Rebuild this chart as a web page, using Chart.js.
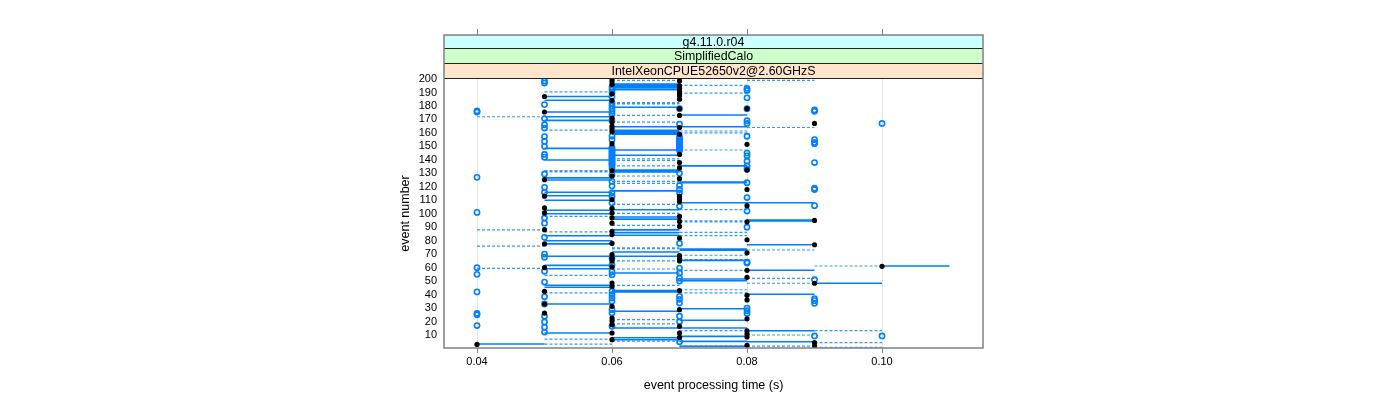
<!DOCTYPE html>
<html>
<head>
<meta charset="utf-8">
<title>event processing time</title>
<script src="https://cdn.jsdelivr.net/npm/chart.js@4"></script>
<style>
    html, body { margin: 0; padding: 0; background: #fff; }
    canvas { display: block; }
</style>
</head>
<body>
<canvas id="chart" width="1400" height="400"></canvas>
<script>
const stripLabels = ['g4.11.0.r04', 'SimplifiedCalo', 'IntelXeonCPUE52650v2@2.60GHzS'];
const xTicks = [0.04, 0.06, 0.08, 0.10];
const yTicks = [10, 20, 30, 40, 50, 60, 70, 80, 90, 100, 110, 120, 130, 140, 150, 160, 170, 180, 190, 200];

// event numbers of the horizontal lines, by the time they start at (each one is 0.01 s long)
const solid004 = [3.3];
const solid005 = [187, 184.2, 175.5, 172, 169.3, 148.5, 139.9, 126.6, 125, 116, 113.4, 110, 102.6, 100, 83.7, 80, 77.6, 68.4, 61.7, 59.2, 46.9, 45.4, 33, 11.5];
const solid006 = [196.3, 195.5, 194.8, 194, 193.4, 192, 179, 164.6, 162, 161, 160, 159, 147.3, 143.4, 132.5, 131.7, 131, 117, 103, 97.6, 96, 88, 86, 84, 71.6, 68.4, 56, 43, 42, 27.6, 15.2, 8, 6.5];
const solid007 = [173.3, 164.6, 135.5, 123.6, 123, 108.2, 73.8, 73, 65.4, 51.6, 50.3, 29.5, 20.9, 15.2, 9, 5.3, 1.6];
const solid008 = [108.2, 95.3, 94.6, 77, 58, 40.2, 13.2, 5];
const solid009 = [48.4];
const solid010 = [61.2];

const dashed004 = [172, 88, 76, 59.4];
const dashed005 = [190.4, 162, 132, 131, 98.1, 86.5, 54.3, 41.2, 7, 3.3];
const dashed006 = [199, 182.5, 181.5, 173, 168, 140.7, 139.5, 135.5, 128, 124, 122.5, 107, 100.3, 91.4, 74.6, 74, 65, 59, 46.9, 21.4, 18.2, 5.5];
const dashed007 = [195.3, 189.5, 161.4, 160, 147.3, 103, 94.8, 94, 86.2, 83.7, 69.2, 65.9, 58, 43.6, 41.2, 13.2, 1.8];
const dashed008 = [199, 164, 73.1, 52, 48.4, 10, 1.8];
const dashed009 = [61.2, 13.2, 4.3, 0.9];

// points, open circles
const open004 = [176.3, 175.5, 127, 101, 60, 55, 42, 26, 25, 17];
const open005 = [198.5, 197, 181, 170.6, 166, 163.6, 157.3, 153.6, 150, 144, 142, 129.5, 119.6, 116, 96.8, 93, 82.5, 70, 67.7, 57.3, 49.3, 38.4, 33, 23.9, 19.7, 15.7, 12.2];
const open006 = [194, 192, 190, 187, 182, 180, 178, 176, 174, 169, 157.7, 155, 149, 148, 147, 146, 145, 144, 143, 142, 141, 140, 139, 138, 137, 136, 134, 129, 124, 120.5, 115.4, 113, 108, 67, 62, 57, 54.8, 42.5, 40, 37.5, 35, 28.8, 26.3, 16.4];
const open007 = [178, 166.5, 157, 156, 155, 154, 153, 152, 151, 150, 149, 148, 147, 130, 121, 118, 115.5, 105.5, 78, 59.7, 56, 52.3, 50, 38.7, 36.5, 33.7, 23.9, 20, 5];
const open008 = [193, 191.5, 186, 178, 169, 167, 157.5, 145, 143, 139, 135.5, 133, 123, 112, 102, 90, 64, 63.5, 30, 28, 26];
const open009 = [177, 176, 155, 153, 152, 138, 119, 118, 106, 51, 37, 35.5, 33.5, 9.3];
const open010 = [167, 9.3];

// points, filled black
const black004 = [3];
const black005 = [187, 175.5, 125.3, 113, 104.3, 100.6, 88.2, 77.6, 60, 42.4, 33, 26.3];
const black006 = [200, 198, 196, 189, 184, 171, 168, 165, 163, 161, 152, 132, 128, 110.5, 104, 100.6, 97, 93, 87, 84.5, 78, 69.6, 67, 65, 60.5, 48.6, 46, 31.3, 22.6, 20.4, 17.6, 11.5, 6.5];
const black007 = [198.6, 195, 193, 191, 189, 187.5, 185, 178, 173, 164, 159, 144, 138, 134, 126, 113, 111, 109, 98, 94.3, 90.6, 82, 69, 66.6, 65, 43, 28.8, 16.4, 11.5, 8.3];
const black008 = [178, 151.5, 132.5, 118, 106, 94, 80.7, 71, 58, 52.8, 39.5, 36, 22, 13, 10.7, 8.5, 2.3];
const black009 = [167, 95, 77, 48.4, 4.3, 1.8];
const black010 = [61];

const BLUE = '#0080ff';
const GREY = '#808080';
const FONT = 'Liberation Sans, Helvetica, Arial, sans-serif';

// one dataset per line style, NaN breaks the line between two segments
function segments(groups) {
    const data = [];
    groups.forEach(([start, events]) => {
        events.forEach(event => {
            data.push({ x: start, y: event }, { x: start + 0.01, y: event }, { x: start, y: NaN });
        });
    });
    return data;
}

function points(groups) {
    const data = [];
    groups.forEach(([time, events]) => {
        events.forEach(event => data.push({ x: time, y: event }));
    });
    return data;
}

const panelDecor = {
    id: 'panelDecor',
    afterDraw(chart) {
        const ctx = chart.ctx;
        const area = chart.chartArea;
        const xScale = chart.scales.x;
        const stripTop = [35, 49, 64];
        const stripBottom = [49, 64, 79];
        const stripColors = ['#ccffff', '#ccffcc', '#ffe5cc'];

        ctx.save();
        // tick marks above the strips
        ctx.strokeStyle = GREY;
        ctx.lineWidth = 1;
        xTicks.forEach(v => {
            const px = Math.round(xScale.getPixelForValue(v)) + 0.5;
            ctx.beginPath();
            ctx.moveTo(px, 29);
            ctx.lineTo(px, 35);
            ctx.stroke();
        });

        stripLabels.forEach((label, i) => {
            ctx.fillStyle = stripColors[i];
            ctx.fillRect(area.left, stripTop[i], area.right - area.left, stripBottom[i] - stripTop[i]);
        });
        stripLabels.forEach((label, i) => {
            ctx.strokeStyle = '#222';
            ctx.lineWidth = 1;
            ctx.beginPath();
            ctx.moveTo(area.left, stripBottom[i] - 0.5);
            ctx.lineTo(area.right, stripBottom[i] - 0.5);
            ctx.stroke();
            ctx.fillStyle = '#000';
            ctx.font = '12.4px ' + FONT;
            ctx.textAlign = 'center';
            ctx.textBaseline = 'middle';
            ctx.fillText(label, (area.left + area.right) / 2, (stripTop[i] + stripBottom[i]) / 2 + 0.5);
        });

        // frame around panel and strips
        ctx.strokeStyle = GREY;
        ctx.lineWidth = 1.5;
        ctx.strokeRect(area.left, 35, area.right - area.left, area.bottom - 35);
        ctx.restore();
    }
};

new Chart(document.getElementById('chart').getContext('2d'), {
    type: 'scatter',
    plugins: [panelDecor],
    data: {
        datasets: [{
            label: 'black points',
            order: 1,
            data: points([[0.04, black004], [0.05, black005], [0.06, black006], [0.07, black007], [0.08, black008], [0.09, black009], [0.10, black010]]),
            pointRadius: 2.6,
            pointBackgroundColor: '#000',
            pointBorderWidth: 0
        }, {
            label: 'open points',
            order: 2,
            data: points([[0.04, open004], [0.05, open005], [0.06, open006], [0.07, open007], [0.08, open008], [0.09, open009], [0.10, open010]]),
            pointRadius: 2.6,
            pointBackgroundColor: 'transparent',
            pointBorderColor: BLUE,
            pointBorderWidth: 1.6
        }, {
            label: 'solid lines',
            order: 3,
            showLine: true,
            pointRadius: 0,
            borderColor: BLUE,
            borderWidth: 1.6,
            data: segments([[0.04, solid004], [0.05, solid005], [0.06, solid006], [0.07, solid007], [0.08, solid008], [0.09, solid009], [0.10, solid010]])
        }, {
            label: 'dashed lines',
            order: 4,
            showLine: true,
            pointRadius: 0,
            borderColor: 'rgba(0, 128, 255, 0.8)',
            borderWidth: 1.2,
            borderDash: [3, 2],
            data: segments([[0.04, dashed004], [0.05, dashed005], [0.06, dashed006], [0.07, dashed007], [0.08, dashed008], [0.09, dashed009]])
        }]
    },
    options: {
        responsive: false,
        animation: false,
        layout: { padding: { left: 398, top: 79, right: 417, bottom: 7 } },
        plugins: {
            legend: { display: false },
            tooltip: { enabled: false }
        },
        scales: {
            x: {
                type: 'linear',
                min: 0.03511,
                max: 0.11496,
                afterBuildTicks(scale) { scale.ticks = xTicks.map(v => ({ value: v })); },
                afterFit(scale) { scale.height = 45; },
                border: { display: false },
                grid: { color: '#e6e6e6', tickColor: GREY, tickLength: 5, lineWidth: 1 },
                ticks: {
                    color: '#000',
                    font: { family: FONT, size: 11 },
                    padding: 2,
                    maxRotation: 0,
                    callback: v => v.toFixed(2)
                },
                title: {
                    display: true,
                    text: 'event processing time (s)',
                    color: '#000',
                    font: { family: FONT, size: 12.5 },
                    padding: 0
                }
            },
            y: {
                type: 'linear',
                min: 0.35,
                max: 200,
                afterBuildTicks(scale) { scale.ticks = yTicks.map(v => ({ value: v })); },
                afterFit(scale) { scale.width = 46; },
                border: { display: false },
                grid: { display: false, drawTicks: false },
                ticks: {
                    color: '#000',
                    font: { family: FONT, size: 11 },
                    padding: 7,
                    autoSkip: false,
                    maxRotation: 0
                },
                title: {
                    display: true,
                    text: 'event number',
                    color: '#000',
                    font: { family: FONT, size: 12.5 },
                    padding: 0
                }
            }
        }
    }
});
</script>
</body>
</html>
